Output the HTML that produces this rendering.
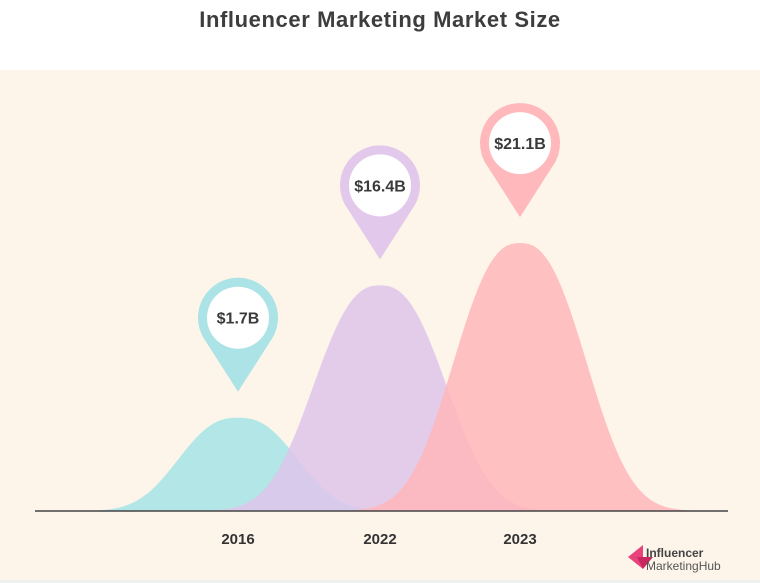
<!DOCTYPE html>
<html><head><meta charset="utf-8"><style>
body{margin:0;width:760px;height:583px;overflow:hidden;background:#fff;font-family:"Liberation Sans",sans-serif}
#t{position:absolute;top:7px;left:0;width:760px;text-align:center;font-size:22px;font-weight:bold;color:#3d3d3d;letter-spacing:.6px}
svg{position:absolute;left:0;top:0}
</style></head><body>
<div id="t">Influencer Marketing Market Size</div>
<svg id="c" width="760" height="583">
<rect x="0" y="70" width="760" height="510" fill="#fdf5ea"/>
<rect x="0" y="580" width="760" height="3" fill="#eef0f0"/>
<g id="marks"></g>
<line x1="35" y1="511" x2="728" y2="511" stroke="#444" stroke-width="1.5"/>
<g>
<polygon points="628,557 643,545 643,569" fill="#e8437a"/><polygon points="637,557 653,557 643,569" fill="#c9285e"/>
<text x="646" y="557" font-size="12" font-weight="bold" fill="#444">Influencer</text>
<text x="646" y="570" font-size="12" fill="#555">MarketingHub</text>
</g>
</svg>
<script>
const categories=["2016","2022","2023"];
const values=[1.7,16.4,21.1];
const labels=["$1.7B","$16.4B","$21.1B"];
const colors=["rgba(166,228,230,0.85)","rgba(222,196,234,0.85)","rgba(255,182,186,0.85)"];
const pinColors=["#ace3e6","#e2c9eb","#ffb9bc"];
const base=511, xs=[238,380,520];
const xScale=i=>xs[i];
const hScale=v=>78+v*9.0;
const g=document.getElementById('marks');const ns="http://www.w3.org/2000/svg";
categories.forEach((c,i)=>{
 const cx=xScale(i),h=hScale(values[i]),s=i==0?52:58;let d=`M${cx-250},${base}`;
 for(let x=cx-250;x<=cx+250;x+=2){const u=(x-cx)/s;d+=` L${x},${base-h*Math.exp(-Math.pow(Math.abs(u),2.5)/2.4)}`;}
 d+=` L${cx+250},${base}Z`;
 const p=document.createElementNS(ns,'path');p.setAttribute('d',d);p.setAttribute('fill',colors[i]);
 
 
 g.appendChild(p);
});
categories.forEach((c,i)=>{
 const cx=xScale(i),tip=base-hScale(values[i])-26,cy=tip-74,R=40;
 const pin=document.createElementNS(ns,'path');
 pin.setAttribute('d',`M${cx},${tip} L${cx-32},${cy+24} A${R},${R} 0 1 1 ${cx+32},${cy+24} Z`);
 pin.setAttribute('fill',pinColors[i]);
 
 
 g.appendChild(pin);
 const w=document.createElementNS(ns,'circle');w.setAttribute('cx',cx);w.setAttribute('cy',cy);w.setAttribute('r',31);w.setAttribute('fill','#fff');
 
 
 g.appendChild(w);
 const t=document.createElementNS(ns,'text');t.setAttribute('x',cx);t.setAttribute('y',cy+6);t.setAttribute('text-anchor','middle');
 t.setAttribute('font-size','16');t.setAttribute('font-weight','bold');t.setAttribute('fill','#3a3a3a');t.textContent=labels[i];
 
 
 g.appendChild(t);
 const xl=document.createElementNS(ns,'text');xl.setAttribute('x',cx);xl.setAttribute('y',544);xl.setAttribute('text-anchor','middle');
 xl.setAttribute('font-size','15');xl.setAttribute('font-weight','bold');xl.setAttribute('fill','#333');xl.textContent=c;
 
 
 document.getElementById('c').appendChild(xl);
});
</script>
</body></html>
